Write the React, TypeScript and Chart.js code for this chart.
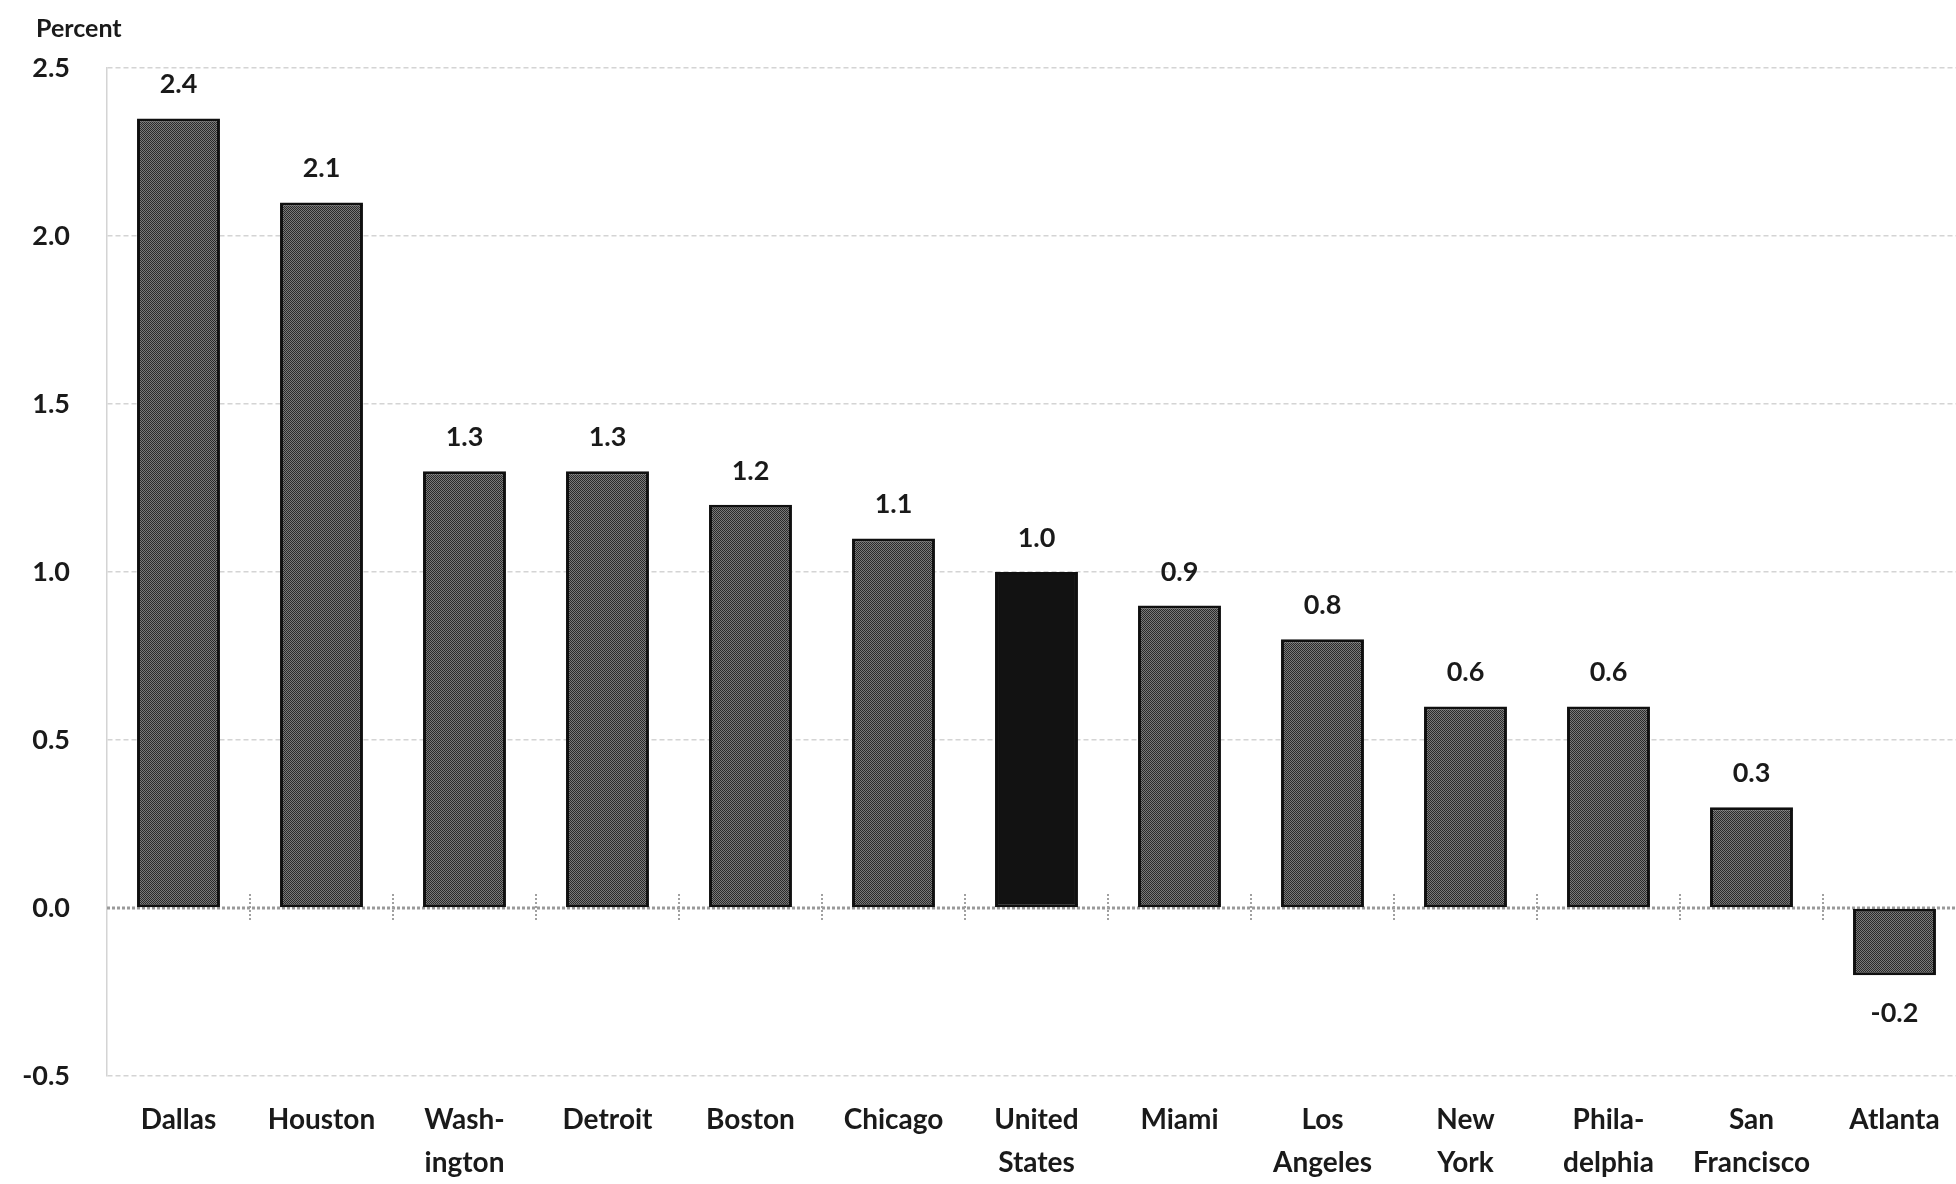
import React, { useEffect, useRef } from "react";
import { Chart, registerables } from "chart.js";

Chart.register(...registerables);

// Metro areas, ordered by growth rate
const cities: string[][] = [
  ["Dallas"],
  ["Houston"],
  ["Wash-", "ington"],
  ["Detroit"],
  ["Boston"],
  ["Chicago"],
  ["United", "States"],
  ["Miami"],
  ["Los", "Angeles"],
  ["New", "York"],
  ["Phila-", "delphia"],
  ["San", "Francisco"],
  ["Atlanta"],
];

// Growth, percent
const growth: number[] = [2.35, 2.1, 1.3, 1.3, 1.2, 1.1, 1.0, 0.9, 0.8, 0.6, 0.6, 0.3, -0.2];

// The national aggregate is drawn solid
const nationalIndex = 6;

// Value axis
const yMin = -0.5;
const yMax = 2.5;
const yStep = 0.5;
const yTitle = "Percent";

const FONT = "Lato, 'Open Sans', 'DejaVu Sans', sans-serif";
const WEIGHT = "bold";
const TEXT = "#1a1a1a";

function makeStipple(): CanvasPattern | string {
  const c = document.createElement("canvas");
  c.width = 2;
  c.height = 2;
  const g = c.getContext("2d");
  if (!g) return "#4a4a4a";
  g.fillStyle = "#7a7a7a";
  g.fillRect(0, 0, 2, 2);
  g.fillStyle = "#2a2a2a";
  g.fillRect(0, 0, 1, 1);
  g.fillRect(1, 1, 1, 1);
  return g.createPattern(c, "repeat") || "#4a4a4a";
}

const decorations = {
  id: "decorations",
  beforeDatasetsDraw(chart: any) {
    const { ctx, chartArea, scales } = chart;
    const x = scales.x;
    const y = scales.y;
    const y0 = y.getPixelForValue(0);
    ctx.save();
    // zero line
    ctx.strokeStyle = "#9a9a9a";
    ctx.lineWidth = 3;
    ctx.setLineDash([3, 2]);
    ctx.beginPath();
    ctx.moveTo(chartArea.left, y0);
    ctx.lineTo(chartArea.right, y0);
    ctx.stroke();
    // category tick marks on the zero line
    ctx.lineWidth = 2;
    ctx.setLineDash([2, 2]);
    ctx.strokeStyle = "#a0a0a0";
    const n = cities.length;
    for (let i = 1; i <= n; i++) {
      const px = x.left + (i * (x.right - x.left)) / n;
      ctx.beginPath();
      ctx.moveTo(px, y0 - 14);
      ctx.lineTo(px, y0 + 14);
      ctx.stroke();
    }
    ctx.restore();
  },
  afterDatasetsDraw(chart: any) {
    const { ctx } = chart;
    const meta = chart.getDatasetMeta(0);
    ctx.save();
    ctx.font = `${WEIGHT} 27px ${FONT}`;
    ctx.fillStyle = TEXT;
    ctx.textAlign = "center";
    ctx.textBaseline = "alphabetic";
    meta.data.forEach((bar: any, i: number) => {
      const v = growth[i];
      const label = v.toFixed(1);
      if (v >= 0) {
        ctx.fillText(label, bar.x, bar.y - 25);
      } else {
        ctx.fillText(label, bar.x, bar.y + 47);
      }
    });
    ctx.restore();
  },
  afterDraw(chart: any) {
    const { ctx } = chart;
    ctx.save();
    ctx.font = `${WEIGHT} 25px ${FONT}`;
    ctx.fillStyle = TEXT;
    ctx.textAlign = "left";
    ctx.textBaseline = "alphabetic";
    ctx.fillText(yTitle, 36, 37);
    ctx.restore();
  },
};

export default function App() {
  const canvasRef = useRef<HTMLCanvasElement | null>(null);

  useEffect(() => {
    const canvas = canvasRef.current;
    if (!canvas) return;
    const stipple = makeStipple();
    const fills = growth.map((_, i) => (i === nationalIndex ? "#121212" : stipple));

    const chart = new Chart(canvas, {
      type: "bar",
      data: {
        labels: cities,
        datasets: [
          {
            data: growth,
            backgroundColor: fills as any,
            borderColor: "#101010",
            borderWidth: 3,
            borderSkipped: false,
            categoryPercentage: 1,
            barPercentage: 0.58,
          },
        ],
      },
      options: {
        animation: false,
        responsive: false,
        devicePixelRatio: 1,
        layout: { padding: { top: 68, right: 14, left: 0, bottom: 0 } },
        plugins: {
          legend: { display: false },
          tooltip: { enabled: false },
        },
        scales: {
          x: {
            offset: true,
            grid: { display: false, drawTicks: false },
            border: { display: false },
            ticks: {
              padding: 23,
              color: TEXT,
              font: { family: FONT, size: 28, weight: WEIGHT, lineHeight: 1.53 },
              maxRotation: 0,
              autoSkip: false,
            },
            afterFit: (s: any) => {
              s.height = 108;
            },
          },
          y: {
            min: yMin,
            max: yMax,
            ticks: {
              stepSize: yStep,
              padding: 37,
              color: TEXT,
              font: { family: FONT, size: 27, weight: WEIGHT },
              callback: (v: any) => Number(v).toFixed(1),
            },
            grid: {
              drawTicks: false,
              lineWidth: 1.5,
              color: (c: any) =>
                c.tick && Math.abs(c.tick.value) < 1e-9 ? "rgba(0,0,0,0)" : "#d4d4d4",
            },
            border: { display: true, color: "#d4d4d4", width: 1.5, dash: [5, 3] },
            afterFit: (s: any) => {
              s.width = 107;
            },
          },
        },
      },
      plugins: [decorations],
    });

    return () => chart.destroy();
  }, []);

  return (
    <div
      style={{
        position: "fixed",
        left: 0,
        top: 0,
        width: 1956,
        height: 1184,
        overflow: "hidden",
        background: "#ffffff",
      }}
    >
      <canvas ref={canvasRef} width={1980} height={1184} style={{ width: 1980, height: 1184, display: "block" }} />
    </div>
  );
}
